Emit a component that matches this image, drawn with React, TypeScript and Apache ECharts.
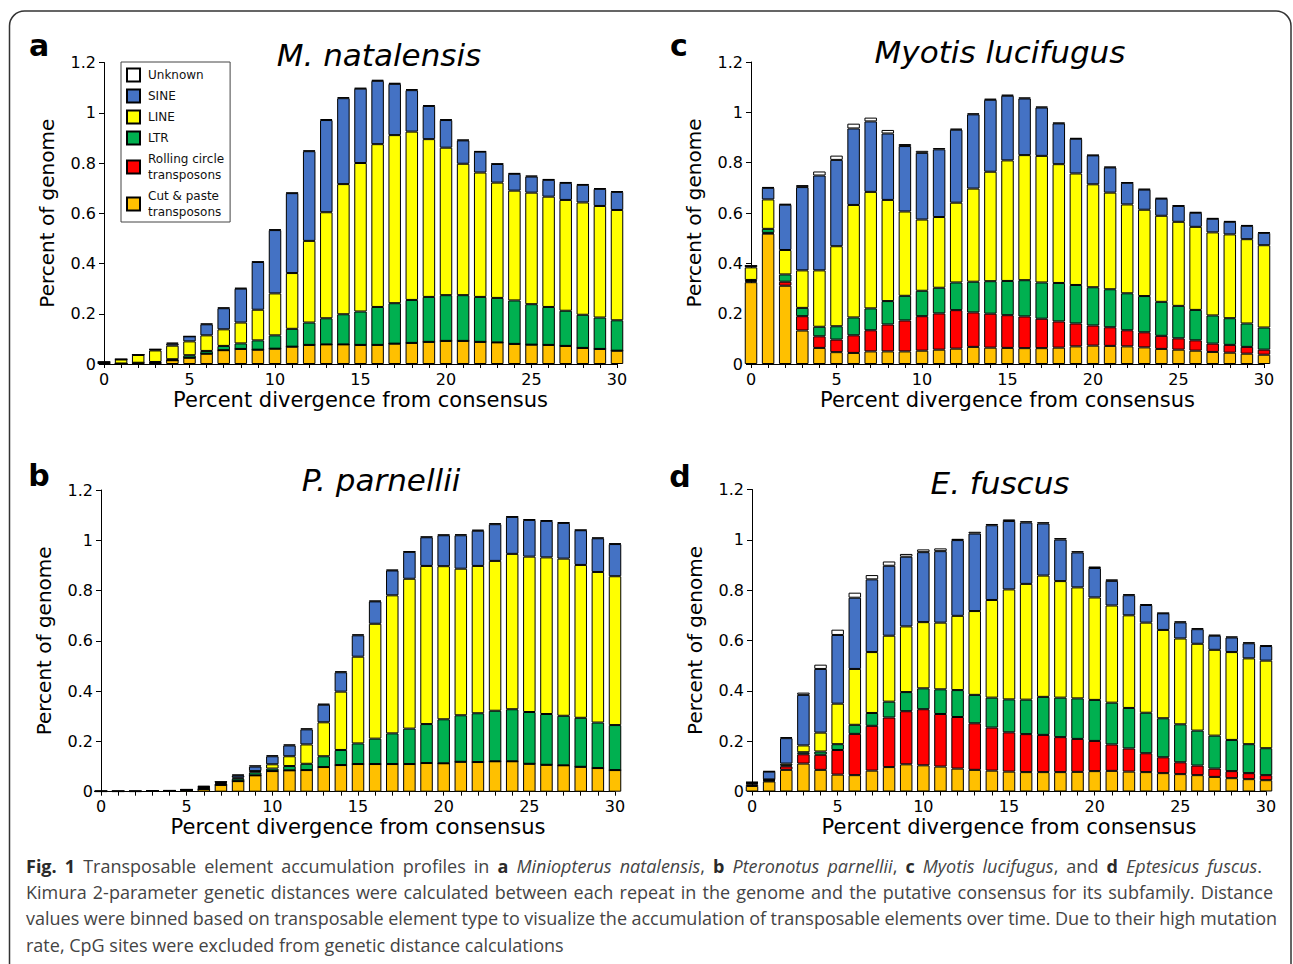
import React, { useEffect, useRef } from "react";
import * as echarts from "echarts";

// Percent divergence from consensus (bin centres)
const divergence = [0, 1, 2, 3, 4, 5, 6, 7, 8, 9, 10, 11, 12, 13, 14, 15, 16, 17, 18, 19, 20, 21, 22, 23, 24, 25, 26, 27, 28, 29, 30];

// ---- a: M. natalensis (percent of genome per bin)
const aCut = [0.003, 0.002, 0.004, 0.004, 0.015, 0.025, 0.041, 0.055, 0.06, 0.057, 0.061, 0.069, 0.076, 0.078, 0.078, 0.076, 0.076, 0.081, 0.084, 0.088, 0.092, 0.092, 0.088, 0.086, 0.08, 0.077, 0.076, 0.072, 0.064, 0.06, 0.053];
const aRolling = [0, 0, 0, 0, 0, 0, 0, 0, 0, 0, 0, 0, 0, 0, 0, 0, 0, 0, 0, 0, 0, 0, 0, 0, 0, 0, 0, 0, 0, 0, 0];
const aLTR = [0.001, 0, 0.001, 0.004, 0.004, 0.01, 0.011, 0.017, 0.022, 0.037, 0.053, 0.071, 0.089, 0.104, 0.12, 0.133, 0.151, 0.161, 0.171, 0.179, 0.182, 0.182, 0.179, 0.177, 0.173, 0.161, 0.151, 0.14, 0.132, 0.125, 0.121];
const aLINE = [0.003, 0.016, 0.031, 0.046, 0.054, 0.055, 0.062, 0.066, 0.083, 0.122, 0.167, 0.222, 0.325, 0.422, 0.518, 0.591, 0.648, 0.669, 0.67, 0.628, 0.587, 0.523, 0.495, 0.459, 0.437, 0.444, 0.439, 0.441, 0.447, 0.444, 0.439];
const aSINE = [0.001, 0.001, 0.001, 0.004, 0.008, 0.02, 0.044, 0.084, 0.135, 0.19, 0.252, 0.318, 0.357, 0.367, 0.342, 0.296, 0.252, 0.204, 0.165, 0.132, 0.11, 0.093, 0.083, 0.074, 0.067, 0.064, 0.067, 0.068, 0.07, 0.068, 0.072];
const aUnknown = [0, 0, 0, 0.001, 0.004, 0, 0.003, 0.003, 0.003, 0.002, 0.003, 0.002, 0.003, 0.004, 0.004, 0.003, 0.004, 0.004, 0.004, 0.003, 0.003, 0.003, 0.002, 0.002, 0.003, 0.004, 0.003, 0.003, 0.003, 0.003, 0.003];

// ---- b: P. parnellii
const bCut = [0.001, 0.001, 0.001, 0.002, 0.002, 0.006, 0.01, 0.027, 0.042, 0.065, 0.082, 0.085, 0.086, 0.098, 0.106, 0.11, 0.11, 0.11, 0.11, 0.114, 0.113, 0.119, 0.118, 0.121, 0.121, 0.111, 0.107, 0.105, 0.099, 0.094, 0.086];
const bRolling = [0, 0, 0, 0, 0, 0, 0, 0, 0, 0, 0, 0, 0, 0, 0, 0, 0, 0, 0, 0, 0, 0, 0, 0, 0, 0, 0, 0, 0, 0, 0];
const bLTR = [0, 0, 0, 0, 0.001, 0.001, 0.005, 0.004, 0.01, 0.012, 0.01, 0.017, 0.025, 0.043, 0.06, 0.082, 0.101, 0.122, 0.141, 0.155, 0.175, 0.185, 0.194, 0.201, 0.207, 0.206, 0.202, 0.197, 0.195, 0.181, 0.179];
const bLINE = [0.001, 0.001, 0.001, 0.001, 0.001, 0.001, 0.003, 0.004, 0.004, 0.005, 0.017, 0.039, 0.077, 0.135, 0.232, 0.345, 0.457, 0.549, 0.596, 0.629, 0.609, 0.583, 0.586, 0.596, 0.618, 0.618, 0.623, 0.625, 0.608, 0.599, 0.592];
const bSINE = [0, 0, 0, 0.001, 0.001, 0.001, 0.002, 0.004, 0.009, 0.018, 0.032, 0.043, 0.06, 0.07, 0.077, 0.085, 0.089, 0.099, 0.107, 0.114, 0.123, 0.133, 0.14, 0.146, 0.147, 0.146, 0.145, 0.142, 0.138, 0.134, 0.128];
const bUnknown = [0, 0, 0, 0, 0, 0, 0.003, 0.001, 0.003, 0.005, 0.004, 0.004, 0.004, 0.004, 0.004, 0.004, 0.003, 0.003, 0.002, 0.003, 0.003, 0.004, 0.004, 0.004, 0.002, 0.003, 0.003, 0.003, 0.002, 0.003, 0.003];

// ---- c: Myotis lucifugus
const cCut = [0.325, 0.518, 0.311, 0.133, 0.064, 0.047, 0.044, 0.05, 0.05, 0.05, 0.053, 0.057, 0.061, 0.068, 0.065, 0.064, 0.063, 0.063, 0.065, 0.07, 0.073, 0.072, 0.07, 0.066, 0.06, 0.057, 0.053, 0.048, 0.045, 0.041, 0.037];
const cRolling = [0.004, 0.003, 0.016, 0.057, 0.046, 0.05, 0.07, 0.084, 0.107, 0.123, 0.137, 0.144, 0.153, 0.137, 0.135, 0.13, 0.126, 0.117, 0.104, 0.091, 0.08, 0.074, 0.064, 0.06, 0.052, 0.045, 0.041, 0.033, 0.031, 0.027, 0.02];
const cLTR = [0.005, 0.016, 0.029, 0.033, 0.038, 0.053, 0.071, 0.087, 0.093, 0.098, 0.101, 0.102, 0.11, 0.122, 0.129, 0.136, 0.144, 0.144, 0.153, 0.153, 0.152, 0.151, 0.147, 0.144, 0.135, 0.129, 0.121, 0.112, 0.106, 0.093, 0.088];
const cLINE = [0.05, 0.117, 0.097, 0.149, 0.224, 0.318, 0.447, 0.463, 0.402, 0.335, 0.283, 0.281, 0.317, 0.37, 0.435, 0.479, 0.497, 0.503, 0.472, 0.443, 0.409, 0.384, 0.353, 0.343, 0.342, 0.334, 0.33, 0.33, 0.333, 0.335, 0.327];
const cSINE = [0.006, 0.046, 0.18, 0.331, 0.377, 0.343, 0.304, 0.28, 0.264, 0.26, 0.265, 0.269, 0.29, 0.295, 0.286, 0.257, 0.225, 0.192, 0.162, 0.138, 0.115, 0.1, 0.086, 0.08, 0.068, 0.063, 0.056, 0.054, 0.05, 0.053, 0.049];
const cUnknown = [0.001, 0.003, 0.003, 0.008, 0.016, 0.017, 0.019, 0.015, 0.014, 0.008, 0.008, 0.005, 0.004, 0.004, 0.004, 0.004, 0.004, 0.004, 0.003, 0.003, 0.002, 0.003, 0.002, 0.003, 0.003, 0.003, 0.003, 0.003, 0.003, 0.003, 0.003];

// ---- d: E. fuscus
const dCut = [0.022, 0.04, 0.086, 0.111, 0.086, 0.067, 0.065, 0.083, 0.097, 0.108, 0.104, 0.099, 0.091, 0.086, 0.083, 0.079, 0.077, 0.077, 0.077, 0.078, 0.081, 0.082, 0.079, 0.077, 0.073, 0.069, 0.065, 0.058, 0.053, 0.049, 0.045];
const dRolling = [0.006, 0.003, 0.014, 0.037, 0.06, 0.098, 0.164, 0.178, 0.197, 0.211, 0.223, 0.209, 0.205, 0.185, 0.171, 0.156, 0.151, 0.148, 0.139, 0.131, 0.12, 0.105, 0.092, 0.075, 0.063, 0.047, 0.038, 0.033, 0.028, 0.024, 0.02];
const dLTR = [0.004, 0.003, 0.004, 0.008, 0.013, 0.023, 0.036, 0.051, 0.063, 0.076, 0.083, 0.098, 0.107, 0.113, 0.119, 0.131, 0.137, 0.151, 0.157, 0.161, 0.163, 0.166, 0.161, 0.161, 0.155, 0.151, 0.139, 0.131, 0.124, 0.115, 0.107];
const dLINE = [0.002, 0.002, 0.007, 0.027, 0.075, 0.161, 0.222, 0.242, 0.262, 0.261, 0.263, 0.265, 0.295, 0.333, 0.388, 0.437, 0.46, 0.482, 0.463, 0.441, 0.407, 0.386, 0.368, 0.358, 0.351, 0.341, 0.345, 0.341, 0.349, 0.341, 0.348];
const dSINE = [0.002, 0.031, 0.101, 0.201, 0.253, 0.273, 0.283, 0.289, 0.278, 0.277, 0.278, 0.284, 0.301, 0.308, 0.297, 0.272, 0.244, 0.207, 0.165, 0.139, 0.117, 0.098, 0.08, 0.07, 0.066, 0.064, 0.058, 0.056, 0.058, 0.06, 0.058];
const dUnknown = [0.002, 0.002, 0.004, 0.009, 0.017, 0.021, 0.02, 0.017, 0.017, 0.011, 0.011, 0.011, 0.005, 0.007, 0.005, 0.006, 0.005, 0.005, 0.006, 0.005, 0.006, 0.006, 0.004, 0.004, 0.002, 0.004, 0.004, 0.004, 0.004, 0.004, 0.003];

// series order bottom -> top
const seriesNames = ["Cut & paste\ntransposons", "Rolling circle\ntransposons", "LTR", "LINE", "SINE", "Unknown"];
const seriesColors = ["#FFC000", "#FF0000", "#00B050", "#FFFF00", "#4472C4", "#FFFFFF"];
const legendOrder = ["Unknown", "SINE", "LINE", "LTR", "Rolling circle\ntransposons", "Cut & paste\ntransposons"];

const yTicks = [0, 0.2, 0.4, 0.6, 0.8, 1, 1.2];

const panels = [
  { title: "M. natalensis", letter: "a", data: [aCut, aRolling, aLTR, aLINE, aSINE, aUnknown] },
  { title: "P. parnellii", letter: "b", data: [bCut, bRolling, bLTR, bLINE, bSINE, bUnknown] },
  { title: "Myotis lucifugus", letter: "c", data: [cCut, cRolling, cLTR, cLINE, cSINE, cUnknown] },
  { title: "E. fuscus", letter: "d", data: [dCut, dRolling, dLTR, dLINE, dSINE, dUnknown] },
];

// layout (pixels)
const grids = [
  { left: 104, top: 62.5, width: 513, height: 301.5 },
  { left: 101, top: 490, width: 514, height: 301.7 },
  { left: 751, top: 62, width: 513, height: 302 },
  { left: 752, top: 489.5, width: 514, height: 302 },
];
const titlePos = [
  [379, 55],
  [381, 480],
  [1000, 52],
  [1000, 483],
];
const letterPos = [
  [39, 45],
  [39, 475],
  [679, 45],
  [680, 476],
];

const FONT = "DejaVu Sans";
const CAP_FONT = "Open Sans";
const CAP_SIZE = 18;

// caption: *bold*, _italic_ (word level); lines justified to the given right edge (null = ragged)
const captionLines = [
  "*Fig.* *1* Transposable element accumulation profiles in *a* _Miniopterus_ _natalensis_, *b* _Pteronotus_ _parnellii_, *c* _Myotis_ _lucifugus_, and *d* _Eptesicus_ _fuscus_.",
  "Kimura 2-parameter genetic distances were calculated between each repeat in the genome and the putative consensus for its subfamily. Distance",
  "values were binned based on transposable element type to visualize the accumulation of transposable elements over time. Due to their high mutation",
  "rate, CpG sites were excluded from genetic distance calculations",
];
const captionRight = [1262, 1273, 1277, null];
const captionY = [866, 892, 918, 945];
const CAPTION_LEFT = 26;

type Word = { style: "" | "b" | "i"; main: string; tail: string };

function parseWord(w: string): Word {
  const m = w.match(/^([*_])(.+?)\1(.*)$/);
  if (m) return { style: m[1] === "*" ? "b" : "i", main: m[2], tail: m[3] };
  return { style: "", main: w, tail: "" };
}

function fontFor(style: string) {
  const st = style === "i" ? "italic " : "";
  const wt = style === "b" ? "bold " : "";
  return `${st}${wt}${CAP_SIZE}px "${CAP_FONT}"`;
}

function buildCaption(line: string, right: number | null) {
  const words = line.split(" ").map(parseWord);
  let ctx: CanvasRenderingContext2D | null = null;
  try {
    ctx = document.createElement("canvas").getContext("2d");
  } catch (e) {
    ctx = null;
  }
  const measure = (t: string, style: string) => {
    if (!ctx) return t.length * CAP_SIZE * 0.5;
    ctx.font = fontFor(style);
    return ctx.measureText(t).width;
  };
  const natSpace = measure(" ", "");
  let spaceW = natSpace;
  if (right !== null && words.length > 1 && ctx) {
    let sum = 0;
    words.forEach((w) => {
      sum += measure(w.main, w.style) + (w.tail ? measure(w.tail, "") : 0);
    });
    const s = (right - CAPTION_LEFT - sum) / (words.length - 1);
    if (s > 0 && s < natSpace * 4) spaceW = s;
  }
  const parts = words.map((w) => {
    const main = w.style ? `{${w.style}|${w.main}}` : `{r|${w.main}}`;
    const tail = w.tail ? `{r|${w.tail}}` : "";
    return main + tail;
  });
  return { text: parts.join(`{s| }`), spaceW };
}

export default function App() {
  const ref = useRef<HTMLDivElement>(null);

  useEffect(() => {
    document.body.style.margin = "0";
    if (!ref.current) return;
    const chart = echarts.init(ref.current, null, { renderer: "svg" });

    const series: any[] = [];
    panels.forEach((p, pi) => {
      p.data.forEach((arr, si) => {
        series.push({
          type: "bar",
          name: seriesNames[si],
          xAxisIndex: pi,
          yAxisIndex: pi,
          stack: "panel" + pi,
          barWidth: 12.5,
          clip: true,
          silent: true,
          emphasis: { disabled: true },
          itemStyle: { color: seriesColors[si], borderColor: "#000", borderWidth: 1 },
          data: arr,
        });
      });
    });

    const xAxis = grids.map((_, gi) => ({
      type: "category",
      gridIndex: gi,
      data: divergence.map(String),
      boundaryGap: false,
      splitLine: { show: false },
      axisLine: { show: true, lineStyle: { color: "#000", width: 1 } },
      axisTick: { show: true, interval: 0, length: 4, lineStyle: { color: "#000" } },
      axisLabel: { interval: 4, fontFamily: FONT, fontSize: 16, color: "#000", margin: 7 },
      name: "Percent divergence from consensus",
      nameLocation: "middle",
      nameGap: 25,
      nameTextStyle: { fontFamily: FONT, fontSize: 21, color: "#000" },
    }));

    const yAxis = grids.map((_, gi) => ({
      type: "value",
      gridIndex: gi,
      min: yTicks[0],
      max: yTicks[yTicks.length - 1],
      interval: 0.2,
      splitLine: { show: false },
      axisLine: { show: true, lineStyle: { color: "#000", width: 1 } },
      axisTick: { show: true, length: 5, lineStyle: { color: "#000" } },
      axisLabel: { fontFamily: FONT, fontSize: 16, color: "#000", margin: 8 },
      name: "Percent of genome",
      nameLocation: "middle",
      nameGap: 47,
      nameTextStyle: { fontFamily: FONT, fontSize: 20, color: "#000" },
    }));

    const graphic: any[] = [
      {
        type: "rect",
        silent: true,
        z: 0,
        shape: { x: 9.5, y: 11, width: 1281.5, height: 1000, r: 15 },
        style: { fill: "none", stroke: "#333", lineWidth: 1.5 },
      },
    ];
    panels.forEach((p, pi) => {
      graphic.push({
        type: "text",
        x: titlePos[pi][0],
        y: titlePos[pi][1],
        silent: true,
        style: {
          text: p.title,
          fontFamily: FONT,
          fontStyle: "italic",
          fontSize: 31,
          fill: "#000",
          textAlign: "center",
          textVerticalAlign: "middle",
        },
      });
      graphic.push({
        type: "text",
        x: letterPos[pi][0],
        y: letterPos[pi][1],
        silent: true,
        style: {
          text: p.letter,
          fontFamily: FONT,
          fontWeight: "bold",
          fontSize: 30,
          fill: "#000",
          textAlign: "center",
          textVerticalAlign: "middle",
        },
      });
    });
    captionLines.forEach((line, li) => {
      const cap = buildCaption(line, captionRight[li]);
      graphic.push({
        type: "text",
        x: CAPTION_LEFT,
        y: captionY[li],
        silent: true,
        style: {
          text: cap.text,
          fontFamily: CAP_FONT,
          fontSize: CAP_SIZE,
          fill: "#444",
          textAlign: "left",
          textVerticalAlign: "middle",
          rich: {
            r: { fontFamily: CAP_FONT, fontSize: CAP_SIZE, fill: "#444" },
            s: { fontFamily: CAP_FONT, fontSize: CAP_SIZE, fill: "#444", width: cap.spaceW },
            b: { fontFamily: CAP_FONT, fontSize: CAP_SIZE, fontWeight: "bold", fill: "#2a2a2a" },
            i: { fontFamily: CAP_FONT, fontSize: CAP_SIZE, fontStyle: "italic", fill: "#444" },
          },
        },
      });
    });

    chart.setOption({
      animation: false,
      backgroundColor: "#fff",
      grid: grids.map((g) => ({ ...g, containLabel: false })),
      xAxis,
      yAxis,
      legend: {
        show: true,
        selectedMode: false,
        orient: "vertical",
        left: 121,
        top: 62,
        padding: [5, 6, 2, 5],
        itemGap: 5,
        itemWidth: 13,
        itemHeight: 13,
        icon: "rect",
        borderColor: "#444",
        borderWidth: 1,
        backgroundColor: "#fff",
        data: legendOrder,
        textStyle: { fontFamily: FONT, fontSize: 12, lineHeight: 16, color: "#111", padding: [0, 0, 0, 3] },
      },
      graphic,
      series,
    });

    return () => chart.dispose();
  }, []);

  return <div ref={ref} style={{ width: 1293, height: 964 }} />;
}
